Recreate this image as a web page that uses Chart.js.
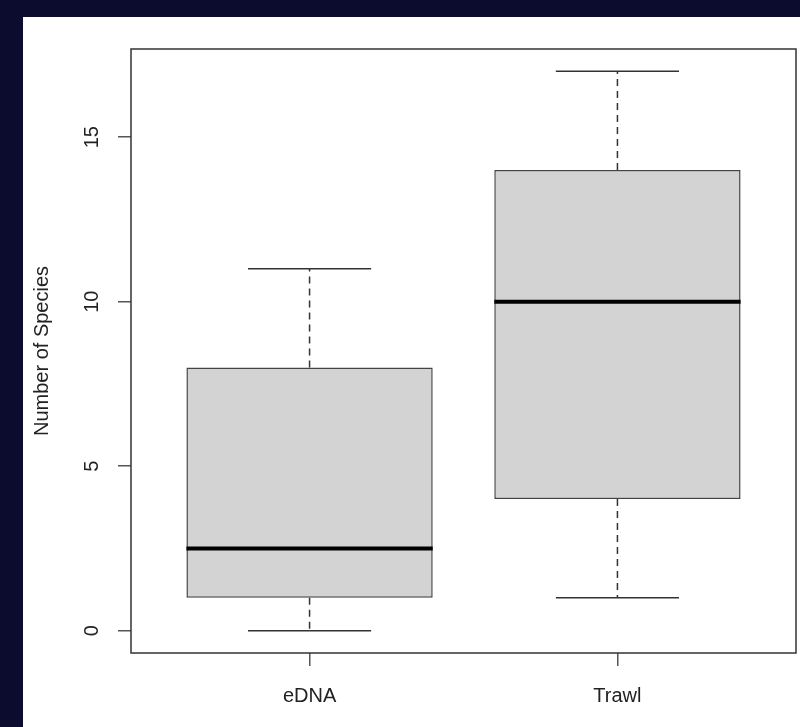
<!DOCTYPE html>
<html>
<head>
<meta charset="utf-8">
<script src="https://cdn.jsdelivr.net/npm/chart.js@4/dist/chart.umd.min.js"></script>
<style>
  body { margin: 0; background: #0c0c2e; width: 800px; height: 727px; overflow: hidden; }
  #panel { position: absolute; left: 23px; top: 17px; width: 777px; height: 710px; background: #fff; }
</style>
</head>
<body>
<div id="panel"><canvas id="box_chart" width="777" height="710"></canvas></div>
<script>
'use strict';

// species counts per method
const categories = ['eDNA', 'Trawl'];
const minValues = [0, 1];
const q1Values = [1, 4];
const medianValues = [2.5, 10];
const q3Values = [8, 14];
const maxValues = [11, 17];
const yTicks = [0, 5, 10, 15];

const fontFamily = '"Liberation Sans", Arial, sans-serif';

// whiskers, caps and medians drawn on top of the floating bars
const boxExtras = {
  id: 'boxExtras',
  afterDatasetsDraw(chart) {
    const ctx = chart.ctx;
    const x = chart.scales.x;
    const y = chart.scales.y;
    const area = chart.chartArea;
    ctx.save();
    categories.forEach((c, i) => {
      const cx = x.getPixelForValue(i + 1);
      const capL = x.getPixelForValue(i + 1 - 0.2);
      const capR = x.getPixelForValue(i + 1 + 0.2);
      const boxL = x.getPixelForValue(i + 1 - 0.4);
      const boxR = x.getPixelForValue(i + 1 + 0.4);

      ctx.strokeStyle = '#333';
      ctx.lineWidth = 1.5;
      ctx.setLineDash([7, 5]);
      ctx.beginPath();
      ctx.moveTo(cx, y.getPixelForValue(q3Values[i]));
      ctx.lineTo(cx, y.getPixelForValue(maxValues[i]));
      ctx.moveTo(cx, y.getPixelForValue(q1Values[i]));
      ctx.lineTo(cx, y.getPixelForValue(minValues[i]));
      ctx.stroke();

      ctx.setLineDash([]);
      ctx.beginPath();
      ctx.moveTo(capL, y.getPixelForValue(maxValues[i]));
      ctx.lineTo(capR, y.getPixelForValue(maxValues[i]));
      ctx.moveTo(capL, y.getPixelForValue(minValues[i]));
      ctx.lineTo(capR, y.getPixelForValue(minValues[i]));
      ctx.stroke();

      ctx.strokeStyle = '#000';
      ctx.lineWidth = 4;
      ctx.beginPath();
      ctx.moveTo(boxL, y.getPixelForValue(medianValues[i]));
      ctx.lineTo(boxR, y.getPixelForValue(medianValues[i]));
      ctx.stroke();
    });
    ctx.strokeStyle = '#333';
    ctx.lineWidth = 1.5;
    ctx.strokeRect(area.left, area.top, area.right - area.left, area.bottom - area.top);
    ctx.restore();
  }
};

let contextBox = document.getElementById('box_chart').getContext('2d');

new Chart(contextBox, {
  type: 'bar',
  data: {
    datasets: [{
      data: categories.map((c, i) => ({ x: i + 1, y: [q1Values[i], q3Values[i]] })),
      backgroundColor: '#d3d3d3',
      borderColor: '#444',
      borderWidth: 1.5,
      borderSkipped: false,
      barPercentage: 0.8,
      categoryPercentage: 1
    }]
  },
  options: {
    responsive: false,
    animation: false,
    layout: { padding: { top: 32, right: 4, left: 0, bottom: 0 } },
    plugins: {
      legend: { display: false },
      tooltip: { enabled: false }
    },
    scales: {
      x: {
        type: 'linear',
        min: 0.42,
        max: 2.58,
        offset: false,
        afterBuildTicks: (scale) => { scale.ticks = categories.map((c, i) => ({ value: i + 1 })); },
        afterFit: (scale) => { scale.height = 74; },
        grid: { offset: false, drawOnChartArea: false, drawTicks: true, tickLength: 13, color: '#555', lineWidth: 1.5 },
        border: { display: false },
        ticks: {
          callback: (v) => categories[v - 1],
          font: { family: fontFamily, size: 20 },
          color: '#222',
          padding: 18,
          maxRotation: 0,
          autoSkip: false
        }
      },
      y: {
        type: 'linear',
        min: -0.68,
        max: 17.68,
        afterBuildTicks: (scale) => { scale.ticks = yTicks.map(v => ({ value: v })); },
        afterFit: (scale) => { scale.width = 108; },
        grid: { drawOnChartArea: false, drawTicks: true, tickLength: 13, color: '#555', lineWidth: 1.5 },
        border: { display: false },
        title: {
          display: true,
          text: 'Number of Species',
          font: { family: fontFamily, size: 20 },
          color: '#222',
          padding: { top: 7, bottom: 0 }
        },
        ticks: {
          minRotation: 90,
          maxRotation: 90,
          crossAlign: 'center',
          padding: 14,
          font: { family: fontFamily, size: 20 },
          color: '#222',
          autoSkip: false
        }
      }
    }
  },
  plugins: [boxExtras]
});
</script>
</body>
</html>
